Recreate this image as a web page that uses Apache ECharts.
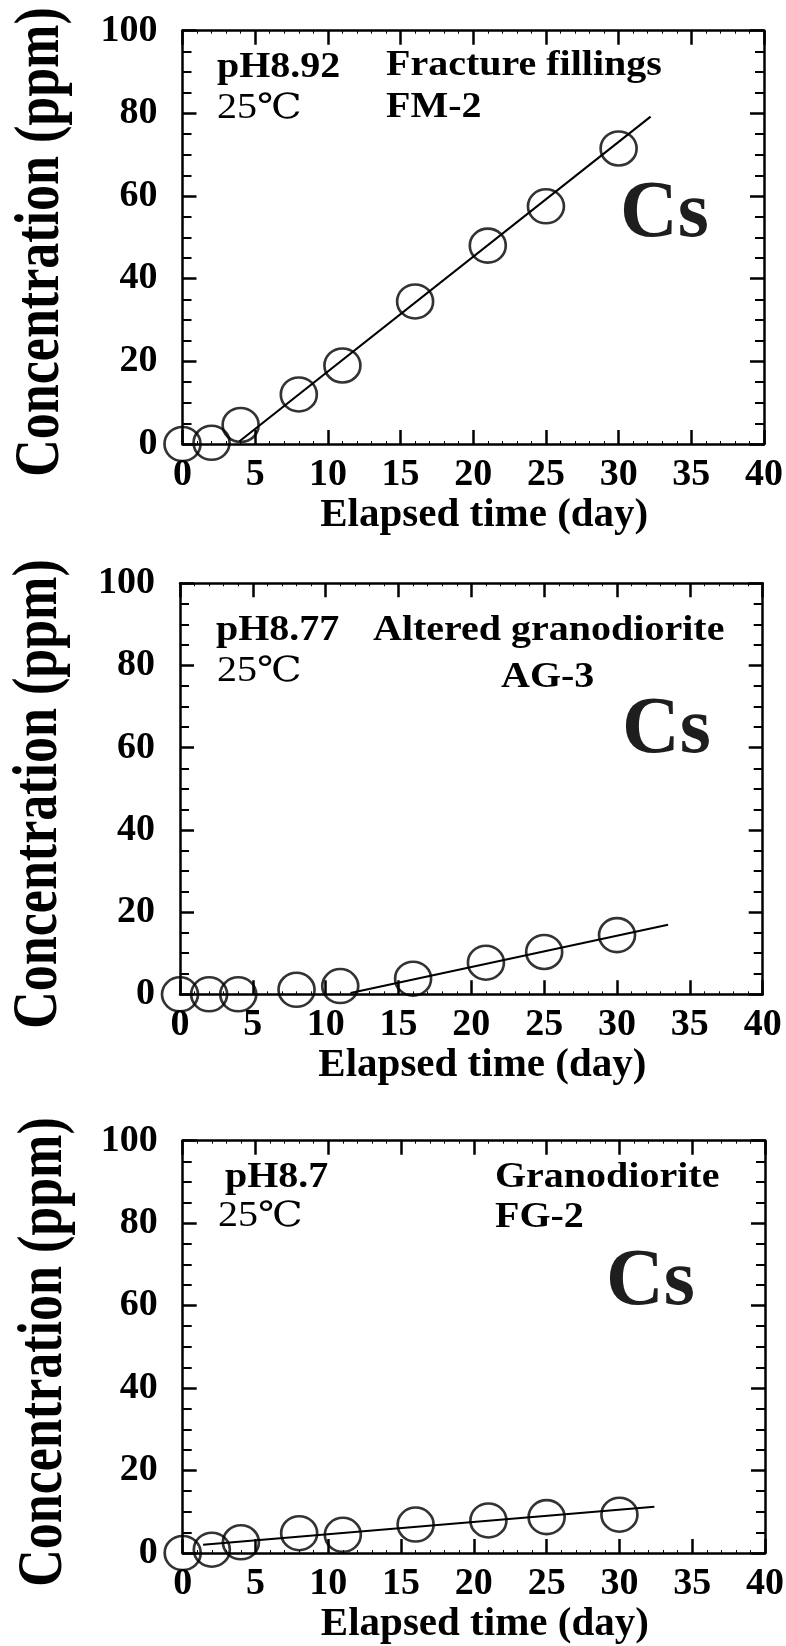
<!DOCTYPE html>
<html>
<head>
<meta charset="utf-8">
<script src="https://cdn.jsdelivr.net/npm/echarts@6/dist/echarts.min.js"></script>
<style>html,body{margin:0;padding:0;background:#fff}#c{width:786px;height:1646px}</style>
</head>
<body>
<div id="c"></div>
<script>
// ---- data ----
const days = [0, 2, 4, 8, 11, 16, 21, 25, 30];
const fmConc = [0, 0.3, 4.6, 12, 19, 34.5, 48, 57.5, 71.5];   // Fracture fillings FM-2
const agConc = [0, 0, 0, 1.1, 2.0, 3.8, 7.7, 10.3, 14.4];      // Altered granodiorite AG-3
const fgConc = [0, 0.8, 2.6, 4.8, 4.4, 6.9, 7.9, 8.7, 9.3];     // Granodiorite FG-2
const fmFitX = [3.9, 32.2], fmFitY = [0.6, 79.2];
const agFitX = [11.7, 33.5], agFitY = [0.3, 16.9];
const fgFitX = [1.4, 32.4], fgFitY = [2.0, 11.2];
const xMin = 0, xMax = 40, xStep = 5;
const yMin = 0, yMax = 100, yStep = 20;
const xTitle = 'Elapsed time (day)';
const yTitle = 'Concentration (ppm)';
const panels = [
  {conc: fmConc, fx: fmFitX, fy: fmFitY, ph: 'pH8.92', temp: '25℃', rock: 'Fracture fillings', sample: 'FM-2', el: 'Cs'},
  {conc: agConc, fx: agFitX, fy: agFitY, ph: 'pH8.77', temp: '25℃', rock: 'Altered granodiorite', sample: 'AG-3', el: 'Cs'},
  {conc: fgConc, fx: fgFitX, fy: fgFitY, ph: 'pH8.7', temp: '25℃', rock: 'Granodiorite', sample: 'FG-2', el: 'Cs'}
];

// ---- layout ----
const serif = '"Liberation Serif","Times New Roman","DejaVu Serif","Noto Sans CJK JP",serif';
const grids = [
  {left: 182.5, top: 30.7, width: 581.5, height: 413.3},
  {left: 180, top: 583.3, width: 582.7, height: 411},
  {left: 182.7, top: 1140.7, width: 582.3, height: 412.3}
];
const yTitleCenter = [[42, 242], [40, 794], [45, 1352]];
const textPos = [
  {ph: [217, 51], temp: [217, 91], rock: [386, 49], sample: [386, 91], el: [620, 175]},
  {ph: [216, 614], temp: [217, 654], rock: [373, 614], sample: [501, 661], el: [622, 691]},
  {ph: [225, 1161], temp: [218, 1199], rock: [495, 1161], sample: [495, 1201], el: [606, 1243]}
];

const black = '#000';
const lineW = 2.5;

const xAxis = [], yAxis = [], series = [], graphic = [];
grids.forEach((g, i) => {
  const base = {
    type: 'value', gridIndex: i, min: xMin, max: xMax, interval: xStep,
    axisLine: {show: true, onZero: false, lineStyle: {color: black, width: lineW}},
    axisTick: {show: true, inside: true, length: 14, lineStyle: {color: black, width: lineW}},
    minorTick: {show: true, splitNumber: 5, length: 3, lineStyle: {color: black, width: 1}},
    splitLine: {show: false}, minorSplitLine: {show: false}
  };
  xAxis.push(Object.assign({}, base, {
    position: 'bottom',
    axisLabel: {show: true, margin: 12, color: black, fontFamily: serif, fontWeight: 'bold', fontSize: 38},
    name: xTitle, nameLocation: 'middle', nameGap: 46,
    nameTextStyle: {fontFamily: serif, fontWeight: 'bold', fontSize: 41, color: black, padding: [0, 0, 0, 22]}
  }));
  xAxis.push(Object.assign({}, base, {position: 'top', axisLabel: {show: false}}));

  const ybase = {
    type: 'value', gridIndex: i, min: yMin, max: yMax, interval: yStep,
    axisLine: {show: true, onZero: false, lineStyle: {color: black, width: lineW}},
    axisTick: {show: true, inside: true, length: 14, lineStyle: {color: black, width: lineW}},
    minorTick: {show: true, splitNumber: 4, length: 9, lineStyle: {color: black, width: 2}},
    splitLine: {show: false}, minorSplitLine: {show: false}
  };
  yAxis.push(Object.assign({}, ybase, {
    position: 'left',
    axisLabel: {show: true, margin: 25, color: black, fontFamily: serif, fontWeight: 'bold', fontSize: 38,
                padding: [0, 0, 10, 0]}
  }));
  yAxis.push(Object.assign({}, ybase, {position: 'right', axisLabel: {show: false}}));

  const p = panels[i];
  series.push({
    type: 'line', xAxisIndex: 2 * i, yAxisIndex: 2 * i,
    data: p.fx.map((x, k) => [x, p.fy[k]]),
    symbol: 'none', lineStyle: {color: black, width: 2.1}, z: 2, silent: true
  });
  series.push({
    type: 'scatter', xAxisIndex: 2 * i, yAxisIndex: 2 * i,
    data: days.map((d, k) => [d, p.conc[k]]),
    symbol: 'circle', symbolSize: [36, 34], clip: false,
    itemStyle: {color: 'rgba(0,0,0,0)', borderColor: black, borderWidth: 2.6},
    z: 3, silent: true
  });

  const t = textPos[i];
  const txt = (s, pos, font, fill, sy) => ({
    type: 'text', x: pos[0], y: pos[1], scaleY: sy || 1, silent: true,
    style: {text: s, font: font, fill: fill || black}
  });
  graphic.push(txt(p.ph, t.ph, 'bold 40px ' + serif, black, 0.87));
  graphic.push(txt(p.temp, t.temp, '40px ' + serif, black, 0.87));
  graphic.push(txt(p.rock, t.rock, 'bold 40px ' + serif, black, 0.87));
  graphic.push(txt(p.sample, t.sample, 'bold 40px ' + serif, black, 0.87));
  graphic.push(txt(p.el, t.el, 'bold 80px ' + serif, '#1e1e1e', 1));
  const c = yTitleCenter[i];
  graphic.push({
    type: 'text', x: c[0], y: c[1], rotation: Math.PI / 2, scaleY: 1.2, silent: true,
    style: {text: yTitle, font: 'bold 52px ' + serif, fill: black, align: 'center', verticalAlign: 'middle'}
  });
});

const chart = echarts.init(document.getElementById('c'), null, {renderer: 'canvas'});
chart.setOption({
  animation: false,
  backgroundColor: '#fff',
  grid: grids.map(g => Object.assign({containLabel: false, outerBoundsMode: 'none'}, g)),
  xAxis, yAxis, series, graphic
});
</script>
</body>
</html>
